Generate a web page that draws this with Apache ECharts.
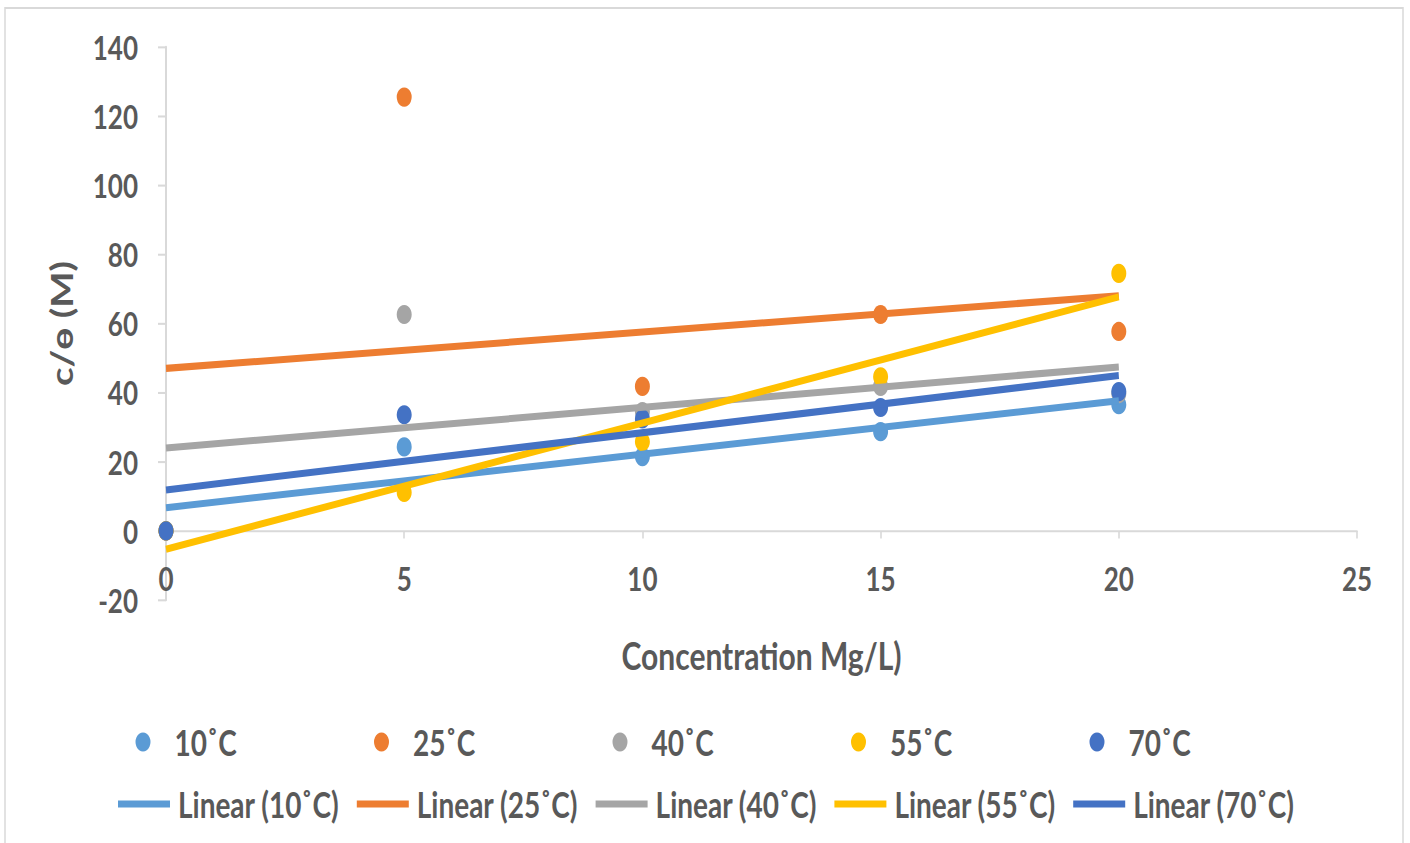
<!DOCTYPE html>
<html>
<head>
<meta charset="utf-8">
<script src="https://cdn.jsdelivr.net/npm/echarts@6/dist/echarts.min.js"></script>
<style>
  html, body { margin: 0; padding: 0; background: #ffffff; }
  body { width: 1410px; height: 843px; overflow: hidden; }
  /* the chart is laid out in a shorter box and stretched vertically */
  #chart { width: 1410px; height: 659px; transform: scaleY(1.28); transform-origin: 0 0; }
</style>
</head>
<body>
<div id="chart"></div>
<script>
// Concentration (Mg/L) at which c/ɵ was measured
const concentrations = [0, 5, 10, 15, 20];
const temperatures = ['10˚C', '25˚C', '40˚C', '55˚C', '70˚C'];

// c/ɵ (M) for each temperature
const values10 = [0, 24.3, 21.5, 28.7, 36.5];
const values25 = [0, 125.5, 41.8, 62.6, 57.7];
const values40 = [0, 62.6, 34.5, 41.8, 39.7];
const values55 = [0, 11.1, 25.8, 44.6, 74.5];
const values70 = [0, 33.6, 32.4, 35.7, 40.3];

// axis ranges
const xTicks = [0, 5, 10, 15, 20, 25];
const yTicks = [-20, 0, 20, 40, 60, 80, 100, 120, 140];

const seriesValues = [values10, values25, values40, values55, values70];
const colors = ['#5B9BD5', '#ED7D31', '#A5A5A5', '#FFC000', '#4472C4'];
const SY = 1.28;              // vertical stretch of the container
const H = 659;                // unstretched container height
const textColor = '#595959';
const font = 'Lato, "Open Sans", sans-serif';

// least-squares line through one temperature's points
function linearFit(xs, ys) {
  const n = xs.length;
  const mx = xs.reduce((a, b) => a + b, 0) / n;
  const my = ys.reduce((a, b) => a + b, 0) / n;
  let sxy = 0, sxx = 0;
  for (let i = 0; i < n; i++) {
    sxy += (xs[i] - mx) * (ys[i] - my);
    sxx += (xs[i] - mx) * (xs[i] - mx);
  }
  const slope = sxy / sxx;
  return { slope, intercept: my - slope * mx };
}

const xMin = Math.min(...concentrations);
const xMax = Math.max(...concentrations);

const series = [];
temperatures.forEach((t, i) => {
  series.push({
    name: t,
    type: 'scatter',
    symbol: 'circle',
    symbolSize: 15,
    itemStyle: { color: colors[i], opacity: 1 },
    z: 2,
    data: concentrations.map((x, j) => [x, seriesValues[i][j]])
  });
});
temperatures.forEach((t, i) => {
  const fit = linearFit(concentrations, seriesValues[i]);
  series.push({
    name: 'Linear (' + t + ')',
    type: 'line',
    showSymbol: false,
    symbol: 'none',
    silent: true,
    z: 3,
    lineStyle: { color: colors[i], width: 5.5 },
    itemStyle: { color: colors[i] },
    data: [[xMin, fit.intercept + fit.slope * xMin], [xMax, fit.intercept + fit.slope * xMax]]
  });
});

// one legend block per entry so the five columns line up
const legends = [];
temperatures.forEach((t, i) => {
  const cx = 143 + 238.5 * i;
  legends.push({
    data: [t],
    left: cx - 7.5,
    top: 742 / SY - 14,
    padding: 0,
    icon: 'circle',
    itemWidth: 15,
    itemHeight: 15,
    selectedMode: false,
    textStyle: { color: textColor, fontSize: 28, fontWeight: 'bold', fontFamily: font, padding: [0, 0, 0, 19] }
  });
  legends.push({
    data: ['Linear (' + t + ')'],
    left: 118 + 238.8 * i,
    top: 804 / SY - 14,
    padding: 0,
    icon: 'rect',
    itemWidth: 52,
    itemHeight: 5.5,
    selectedMode: false,
    textStyle: { color: textColor, fontSize: 28, fontWeight: 'bold', fontFamily: font, padding: [0, 0, 0, 3] }
  });
});

// plot box (unstretched pixels)
const gridTop = 47 / SY;
const gridBottomY = 600 / SY;
// the x axis crosses the y axis at 0: shift it up from the plot's bottom edge
const zeroY = gridBottomY - (0 - yTicks[0]) / (yTicks[yTicks.length - 1] - yTicks[0]) * (gridBottomY - gridTop);
const xAxisOffset = -(gridBottomY - zeroY);

const chart = echarts.init(document.getElementById('chart'), null, { renderer: 'svg' });
chart.setOption({
  animation: false,
  backgroundColor: '#ffffff',
  graphic: [{
    type: 'rect',
    shape: { x: 5, y: 8 / SY, width: 1398, height: 700 },
    style: { fill: 'none', stroke: '#D9D9D9', lineWidth: 1.5 },
    silent: true,
    z: -1
  }],
  grid: { left: 166, right: 1410 - 1357, top: gridTop, bottom: H - gridBottomY, containLabel: false },
  xAxis: {
    type: 'value',
    min: xTicks[0],
    max: xTicks[xTicks.length - 1],
    interval: xTicks[1] - xTicks[0],
    offset: xAxisOffset,
    name: 'Concentration Mg/L)',
    nameLocation: 'middle',
    nameGap: 82,
    nameTextStyle: { color: textColor, fontSize: 30, fontWeight: 'bold', fontFamily: font },
    axisLine: { show: true, onZero: false, lineStyle: { color: '#D9D9D9', width: 1.6 } },
    axisTick: { show: true, length: 6, lineStyle: { color: '#D9D9D9', width: 1.6 } },
    axisLabel: { color: textColor, fontSize: 26, fontWeight: 'bold', fontFamily: font, margin: 24 },
    splitLine: { show: false }
  },
  yAxis: {
    type: 'value',
    min: yTicks[0],
    max: yTicks[yTicks.length - 1],
    interval: yTicks[1] - yTicks[0],
    name: 'c/ɵ (M)',
    nameLocation: 'middle',
    nameGap: 90,
    nameTextStyle: { color: textColor, fontSize: 30, fontWeight: 'bold', fontFamily: font },
    axisLine: { show: true, onZero: false, lineStyle: { color: '#D9D9D9', width: 2 } },
    axisTick: { show: true, length: 8, lineStyle: { color: '#D9D9D9', width: 1.6 } },
    axisLabel: { color: textColor, fontSize: 26, fontWeight: 'bold', fontFamily: font, margin: 28 },
    splitLine: { show: false }
  },
  legend: legends,
  series: series
});
</script>
</body>
</html>
